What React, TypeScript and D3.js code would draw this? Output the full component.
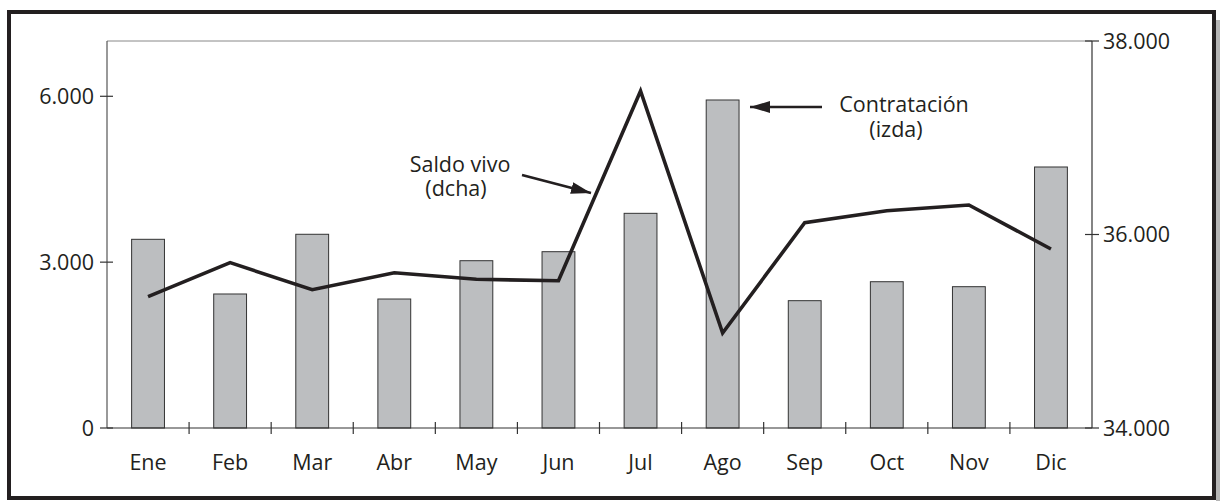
import React from "react";
import * as d3 from "d3";

const months = ["Ene", "Feb", "Mar", "Abr", "May", "Jun", "Jul", "Ago", "Sep", "Oct", "Nov", "Dic"];
const contratacion = [3413, 2424, 3504, 2333, 3026, 3189, 3883, 5933, 2303, 2646, 2556, 4721];
const saldoVivo = [35357, 35709, 35429, 35605, 35537, 35522, 37483, 34982, 36122, 36246, 36305, 35850];
const leftTicks = [0, 3000, 6000];
const rightTicks = [34000, 36000, 38000];

const W = 1220;
const H = 501;
const L = 107;
const R = 1092;
const T = 41;
const B = 428;
const FONT = "'Open Sans', 'Noto Sans', sans-serif";
const FS = 21.5;

const fmt = (v: number) => (v === 0 ? "0" : d3.format(",")(v).replace(/,/g, "."));

export default function App() {
  const x = d3.scaleBand<string>().domain(months).range([L, R]).paddingInner(0).paddingOuter(0);
  const band = x.bandwidth();
  const xc = (m: string) => x(m)! + band / 2;
  const bw = band * 0.4;
  const yL = d3.scaleLinear().domain([0, 7000]).range([B, T]);
  const yR = d3.scaleLinear().domain([34000, 38000]).range([B, T]);
  const line = d3
    .line<number>()
    .x((_, i) => xc(months[i]))
    .y((d) => yR(d))(saldoVivo) as string;

  const txt = "#231f20";
  return (
    <svg width={W} height={H} style={{ position: "absolute", left: 0, top: 0, background: "#fff" }} fontFamily={FONT}>
      <defs>
        <marker id="ah2" viewBox="0 0 20 12" refX="20" refY="6" markerWidth="20" markerHeight="12" orient="auto" markerUnits="userSpaceOnUse">
          <path d="M0,0 L20,6 L0,12 z" fill={txt} />
        </marker>
      </defs>
      {/* shadow */}
      <rect x={1216} y={20} width={4} height={H - 20} fill="#b5b5b5" />
      {/* frame */}
      <rect x={9} y={12} width={1205} height={486} fill="#fff" stroke={txt} strokeWidth={4} />

      {/* top border */}
      <line x1={L} x2={R} y1={T} y2={T} stroke="#888" strokeWidth={1} />
      {/* bars */}
      {months.map((m, i) => (
        <rect
          key={m}
          x={xc(m) - bw / 2}
          y={yL(contratacion[i])}
          width={bw}
          height={B - yL(contratacion[i])}
          fill="#bcbec0"
          stroke="#333"
          strokeWidth={1}
        />
      ))}
      {/* left axis */}
      <line x1={L} x2={L} y1={T} y2={B} stroke="#555" strokeWidth={1.2} />
      {leftTicks.map((t) => (
        <g key={t}>
          <line x1={L - 7} x2={L + 6} y1={yL(t)} y2={yL(t)} stroke="#333" strokeWidth={1.2} />
          <text x={94} y={yL(t)} dy="0.35em" textAnchor="end" fontSize={FS} fill={txt}>
            {fmt(t)}
          </text>
        </g>
      ))}
      {/* right axis */}
      <line x1={R} x2={R} y1={T} y2={B} stroke="#333" strokeWidth={1.2} />
      {rightTicks.map((t) => (
        <g key={t}>
          <line x1={R - 7} x2={R + 7} y1={yR(t)} y2={yR(t)} stroke="#333" strokeWidth={1.2} />
          <text x={1103} y={yR(t)} dy="0.35em" textAnchor="start" fontSize={FS} fill={txt}>
            {fmt(t)}
          </text>
        </g>
      ))}
      {/* x axis */}
      <line x1={L} x2={R} y1={B} y2={B} stroke="#333" strokeWidth={1.2} />
      {months.slice(1).map((m) => (
        <line key={m} x1={x(m)!} x2={x(m)!} y1={B - 6} y2={B + 6} stroke="#333" strokeWidth={1.2} />
      ))}
      {months.map((m) => (
        <text key={m} x={xc(m)} y={470} textAnchor="middle" fontSize={FS} fill={txt}>
          {m}
        </text>
      ))}
      {/* line */}
      <path d={line} fill="none" stroke={txt} strokeWidth={3.6} strokeLinejoin="miter" />

      {/* annotations */}
      <text x={460} y={172} textAnchor="middle" fontSize={FS} fill={txt}>Saldo vivo</text>
      <text x={456} y={196} textAnchor="middle" fontSize={FS} fill={txt}>(dcha)</text>
      <line x1={522} y1={175} x2={591} y2={193} stroke={txt} strokeWidth={2.6} markerEnd="url(#ah2)" />

      <text x={904} y={112} textAnchor="middle" fontSize={FS} fill={txt}>Contratación</text>
      <text x={896} y={137} textAnchor="middle" fontSize={FS} fill={txt}>(izda)</text>
      <line x1={822} y1={107} x2={750} y2={107} stroke={txt} strokeWidth={2.6} markerEnd="url(#ah2)" />
    </svg>
  );
}
